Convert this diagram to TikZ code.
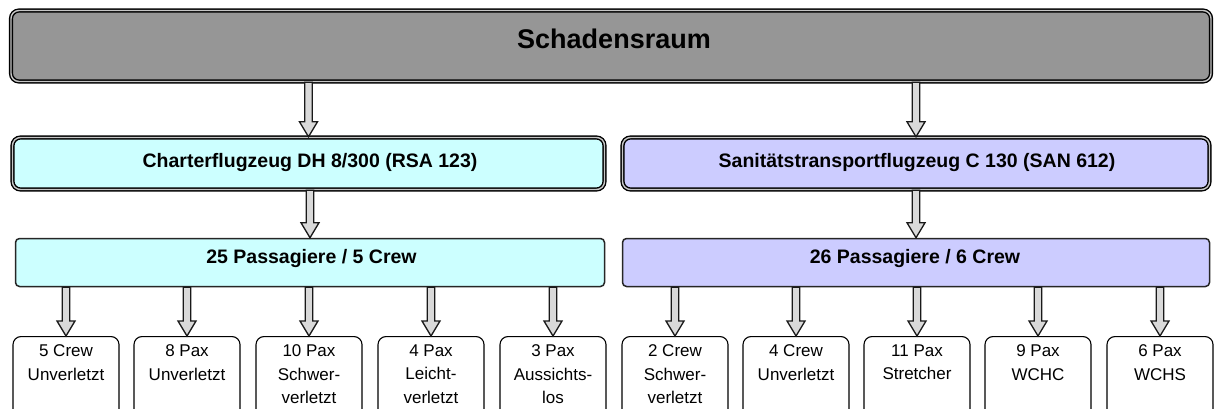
\documentclass[tikz,border=0pt]{standalone}
\usepackage{fontspec}
\setmainfont{Liberation Sans}
\usetikzlibrary{calc}
\definecolor{topgray}{HTML}{969696}
\definecolor{cyanfill}{HTML}{CCFFFF}
\definecolor{lavfill}{HTML}{CCCCFF}
\begin{document}
\begin{tikzpicture}[x=1pt,y=-1pt,
  dbl/.style={draw=black, line width=1.4pt, double=gray!45, double distance=1.4pt,
    rounded corners=8pt, inner sep=0pt},
  lvlthree/.style={draw=black!85, line width=1.5pt, rounded corners=4pt, inner sep=0pt},
  leafbox/.style={draw=black, line width=1.1pt, rounded corners=8pt, inner sep=0pt,
    minimum width=106pt, minimum height=80pt},
  bigtxt/.style={font=\fontsize{27}{32}\selectfont\bfseries, inner sep=0pt, anchor=base},
  midtxt/.style={font=\fontsize{19.5}{23}\selectfont\bfseries, inner sep=0pt, anchor=base},
  leaftxt/.style={font=\fontsize{17}{23.3}\selectfont, align=center, inner sep=0pt, anchor=north},
  barrow/.style={draw=black!90, line width=1.3pt, fill=gray!30, line join=miter,
    to path={let \p1=(\tikztostart), \p2=(\tikztotarget) in
      (\x2-3.8pt,\y1) -- (\x2-3.8pt,\y2+15pt) -- (\x2-9pt,\y2+15pt) -- (\x2,\y2)
      -- (\x2+9pt,\y2+15pt) -- (\x2+3.8pt,\y2+15pt) -- (\x2+3.8pt,\y1) -- cycle}}
]
\useasboundingbox (0,0) rectangle (1215,409);
\clip (0,0) rectangle (1215,409);

% top
\node[dbl, fill=topgray, minimum width=1200pt, minimum height=71pt] (top) at (611,46) {};
\node[bigtxt] (toptxt) at (614,49) {Schadensraum};

% level 2
\node[dbl, fill=cyanfill, minimum width=592pt, minimum height=52pt] (ca) at (308.5,163.5) {};
\node[midtxt] (catxt) at (310,167) {Charterflugzeug DH 8/300 (RSA 123)};
\node[dbl, fill=lavfill, minimum width=587pt, minimum height=52pt] (cb) at (916,163.5) {};
\node[midtxt] (cbtxt) at (917,167) {Sanitätstransportflugzeug C 130 (SAN 612)};

% level 3
\node[lvlthree, fill=cyanfill, minimum width=589pt, minimum height=48pt] (pa) at (310,262.5) {};
\node[midtxt] (patxt) at (311.5,263) {25 Passagiere / 5 Crew};
\node[lvlthree, fill=lavfill, minimum width=587pt, minimum height=48pt] (pb) at (916,262.5) {};
\node[midtxt] (pbtxt) at (915,263) {26 Passagiere / 6 Crew};

% arrows level 1-3
\draw[barrow] (top.south -| ca.north) to (ca.north);
\draw[barrow] (top.south -| cb.north) to (cb.north);
\draw[barrow] (ca.south -| pa.north) to (pa.north);
\draw[barrow] (cb.south -| pb.north) to (pb.north);

% leaves
\foreach \i/\x/\t/\src in {
  1/66/{5 Crew\\Unverletzt}/pa,
  2/187/{8 Pax\\Unverletzt}/pa,
  3/309/{10 Pax\\Schwer-\\verletzt}/pa,
  4/431/{4 Pax\\Leicht-\\verletzt}/pa,
  5/553/{3 Pax\\Aussichts-\\los}/pa,
  6/675/{2 Crew\\Schwer-\\verletzt}/pb,
  7/796/{4 Crew\\Unverletzt}/pb,
  8/917/{11 Pax\\Stretcher}/pb,
  9/1038/{9 Pax\\WCHC}/pb,
  10/1160/{6 Pax\\WCHS}/pb}{
  \node[leafbox, anchor=north] (b\i) at (\x,336) {};
  \node[leaftxt] (t\i) at (\x,344.8) {\t};
  \draw[barrow] (\src.south -| b\i.north) to (b\i.north);
}
\end{tikzpicture}
\end{document}
